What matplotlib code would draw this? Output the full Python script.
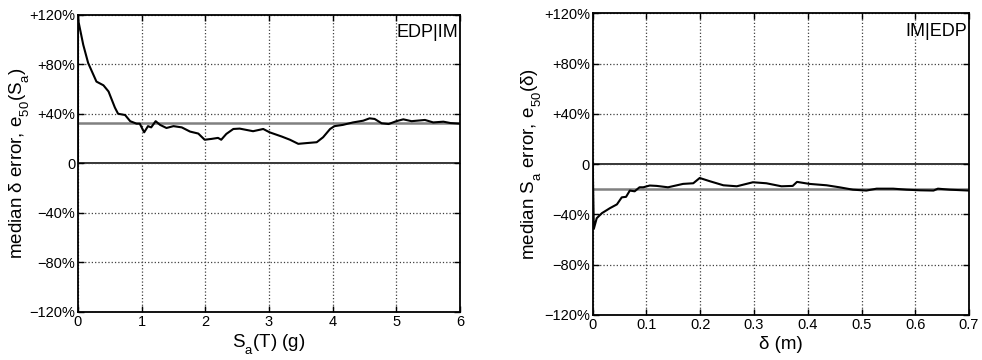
"""
Median error plots, EDP|IM and IM|EDP
"""

import matplotlib
matplotlib.use("Agg")
import matplotlib.pyplot as plt

try:
    # MATLAB-like subscripts sit fully below the baseline
    import matplotlib._mathtext as _mt
    _mt.FontConstantsBase.sub1 = 0.75
except Exception:
    pass

plt.rcParams['font.family'] = ['Liberation Sans', 'DejaVu Sans']
plt.rcParams['mathtext.fontset'] = 'custom'
plt.rcParams['mathtext.rm'] = 'Liberation Sans'
plt.rcParams['mathtext.it'] = 'Liberation Sans'

# left panel: median delta error vs Sa(T)
sa_x = [0, 0, 0.01, 0.083, 0.16, 0.29, 0.40, 0.48, 0.58, 0.63, 0.74, 0.82, 0.92, 0.97,
        1.04, 1.10, 1.15, 1.22, 1.29, 1.39, 1.50, 1.63, 1.76, 1.89, 1.99, 2.10, 2.20,
        2.25, 2.33, 2.44, 2.54, 2.75, 2.91, 3.01, 3.20, 3.33, 3.46, 3.59, 3.75, 3.85,
        3.96, 4.03, 4.16, 4.32, 4.48, 4.58, 4.66, 4.77, 4.88, 5.00, 5.11, 5.24, 5.45,
        5.58, 5.74, 5.85, 6.0]
sa_err = [0, 120, 114, 95.7, 81, 66, 63, 58, 45, 40, 39, 34, 32, 32,
          25, 30, 29, 34, 31, 28.5, 30, 29, 25.6, 24, 19, 19.7, 20.5,
          19, 23.7, 27.7, 28, 25.9, 27.7, 25, 21.6, 19, 15.7, 16.3, 17, 21,
          27.7, 30, 31, 33, 34.4, 36.3, 35.8, 32.3, 31.7, 34, 35.5, 34, 35,
          33, 33.6, 32.5, 32]
sa_ref = 32.2

# right panel: median Sa error vs delta
d_x = [0, 0.002, 0.0074, 0.017, 0.032, 0.045, 0.054, 0.062, 0.069, 0.078, 0.087, 0.094,
       0.106, 0.119, 0.140, 0.168, 0.187, 0.199, 0.218, 0.243, 0.268, 0.298, 0.323,
       0.351, 0.372, 0.380, 0.403, 0.435, 0.459, 0.484, 0.509, 0.528, 0.559, 0.584,
       0.609, 0.634, 0.642, 0.664, 0.7]
d_err = [0, -51.5, -43, -39, -35, -32, -26.4, -26, -21, -21.6, -18.4, -18.4,
         -17, -17.3, -18.4, -15.7, -15.2, -11, -13.6, -16.8, -17.6, -14.4, -15.2,
         -17.6, -17.3, -14.1, -15.7, -16.8, -18.4, -20.3, -21, -19.5, -19.5, -20.3,
         -20.8, -21, -19.5, -20.3, -21]
d_ref = -19.5

y_ticks = [-120, -80, -40, 0, 40, 80, 120]
y_labels = ['\u2212120%', '\u221280%', '\u221240%', '0', '+40%', '+80%', '+120%']


def style_axis(ax, xticks, xlabels, xlim):
    ax.set_xlim(*xlim)
    ax.set_ylim(-120, 120)
    ax.set_xticks(xticks)
    ax.set_xticklabels(xlabels)
    ax.set_yticks(y_ticks)
    ax.set_yticklabels(y_labels)
    ax.tick_params(direction='in', top=True, right=True, labelsize=10.5,
                   length=4, width=1, pad=2)
    ax.grid(True, linestyle=':', color='0.25', linewidth=0.9)
    ax.axhline(0, color='0.15', linewidth=1.3, zorder=1.5)
    for sp in ax.spines.values():
        sp.set_linewidth(1.3)


figure = plt.figure(figsize=(9.82, 3.6), dpi=100)

ax1 = figure.add_axes([0.0794, 0.134, 0.389, 0.825])
ax2 = figure.add_axes([0.6036, 0.125, 0.3832, 0.838])

###############################################################################
# EDP|IM
ax1.axhline(sa_ref, color='0.5', linewidth=1.8, zorder=2)
ax1.plot(sa_x, sa_err, color='k', linewidth=1.5, zorder=3)
style_axis(ax1, [0, 1, 2, 3, 4, 5, 6], ['0', '1', '2', '3', '4', '5', '6'], (0, 6))
ax1.set_xlabel('$\\mathregular{S_a}$(T) (g)', fontsize=13.5, labelpad=3)
ax1.set_ylabel('median \u03b4 error, $\\mathregular{e_{50}(S_a)}$',
               fontsize=13.5, labelpad=-2)
ax1.text(0.996, 0.968, 'EDP|IM', transform=ax1.transAxes, ha='right', va='top',
         fontsize=13)

###############################################################################
# IM|EDP
ax2.axhline(d_ref, color='0.5', linewidth=1.8, zorder=2)
ax2.plot(d_x, d_err, color='k', linewidth=1.5, zorder=3)
dticks = [0, 0.1, 0.2, 0.3, 0.4, 0.5, 0.6, 0.7]
style_axis(ax2, dticks, ['0', '0.1', '0.2', '0.3', '0.4', '0.5', '0.6', '0.7'], (0, 0.7))
ax2.set_xlabel('\u03b4 (m)', fontsize=13.5, labelpad=3)
ax2.set_ylabel('median $\\mathregular{S_a}$ error, $\\mathregular{e_{50}}$(\u03b4)',
               fontsize=13.5, labelpad=0)
ax2.text(0.996, 0.968, 'IM|EDP', transform=ax2.transAxes, ha='right', va='top',
         fontsize=13)

figure.savefig('out.png', dpi=100)
